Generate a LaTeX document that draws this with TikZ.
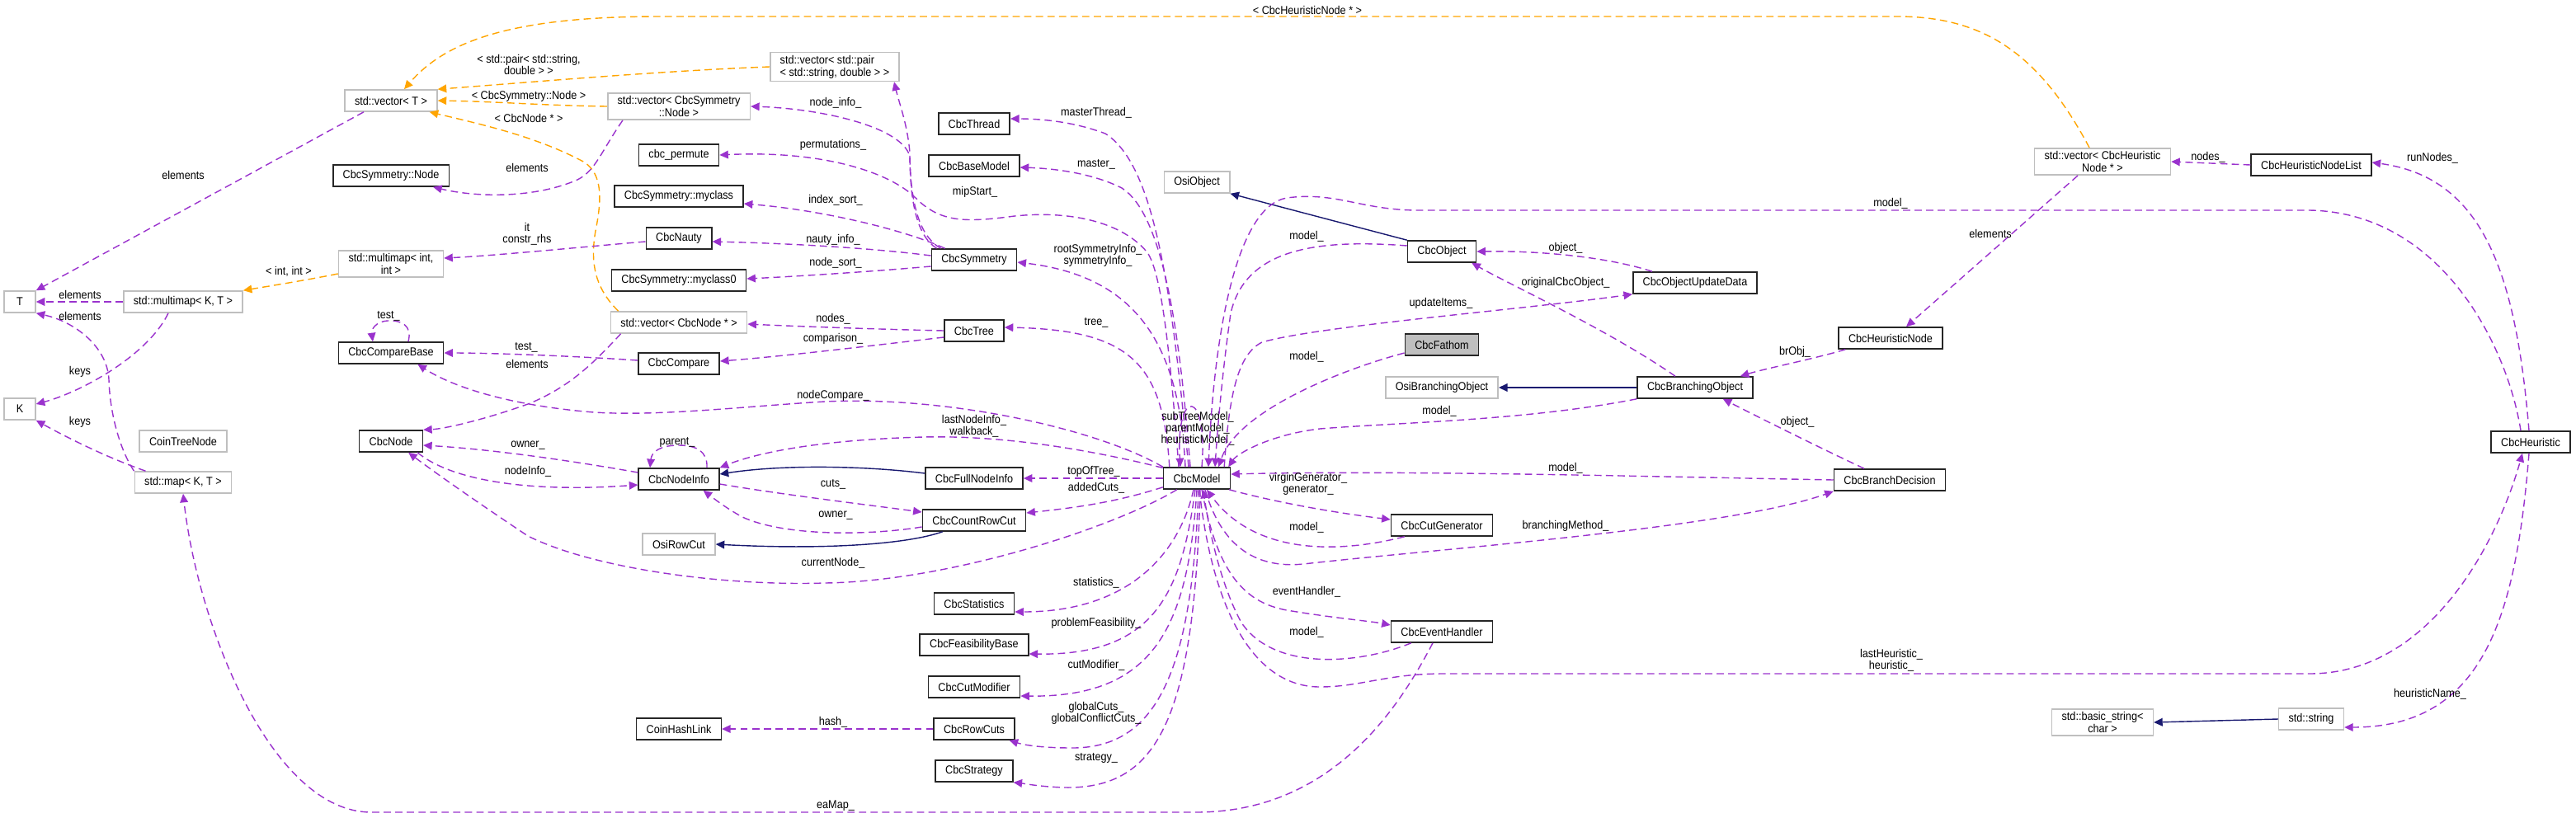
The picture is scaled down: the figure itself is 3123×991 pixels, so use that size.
\documentclass[tikz,border=0pt]{standalone}
\usepackage{fontspec}
\setmainfont{Liberation Sans}[FakeStretch=0.9]
\usetikzlibrary{arrows.meta,calc}

\definecolor{usecol}{RGB}{154,50,205}
\definecolor{inhcol}{RGB}{25,25,112}
\definecolor{tplcol}{RGB}{255,165,0}
\definecolor{extcol}{RGB}{191,191,191}

\tikzset{
  cls/.style={draw=black!85,line width=0.9pt,fill=white,minimum height=14.8pt,
    inner xsep=6.8pt,inner ysep=2pt,font=\fontsize{8}{8.5}\selectfont,align=center},
  ext/.style={cls,draw=extcol},
  cur/.style={cls,fill=extcol},
  lbl/.style={font=\fontsize{8}{8}\selectfont,align=center,inner sep=0pt},
  uses/.style={draw=usecol,line width=0.8pt,dash pattern=on 5pt off 3pt,
    -{Triangle[length=6pt,width=5.5pt]}},
  inh/.style={draw=inhcol,line width=0.8pt,-{Triangle[length=6pt,width=5.5pt]}},
  tpl/.style={draw=tplcol,line width=0.8pt,dash pattern=on 5pt off 3pt,
    -{Triangle[length=6pt,width=5.5pt]}}
}

\begin{document}
\begin{tikzpicture}[x=0.02cm,y=-0.02cm]
  \useasboundingbox (0,0) rectangle (3123,991);

  % templates and element types
  \node[ext,minimum width=21.6pt] (t) at (24,366) {T};
  \node[ext,minimum width=21.6pt] (k) at (24,496) {K};
  \node[ext] (mmkt) at (222,366) {std::multimap< K, T >};
  \node[ext] (cointree) at (222,535) {CoinTreeNode};
  \node[ext] (stdmap) at (222,585) {std::map< K, T >};
  \node[ext] (vect) at (474,122) {std::vector< T >};
  \node[cls] (symnode) at (474,213) {CbcSymmetry::Node};
  \node[ext] (mmint) at (474,320) {std::multimap< int,\\ int >};
  \node[cls] (cmpbase) at (474,428) {CbcCompareBase};
  \node[cls] (cbcnode) at (474,535) {CbcNode};

  % symmetry, tree and node info classes
  \node[ext] (vecsym) at (823,129) {std::vector< CbcSymmetry\\ ::Node >};
  \node[cls] (permute) at (823,188) {cbc\_permute};
  \node[cls] (myclass) at (823,238) {CbcSymmetry::myclass};
  \node[cls] (nauty) at (823,289) {CbcNauty};
  \node[cls] (myclass0) at (823,340) {CbcSymmetry::myclass0};
  \node[ext] (vecnode) at (823,391) {std::vector< CbcNode * >};
  \node[cls] (compare) at (823,441) {CbcCompare};
  \node[cls] (nodeinfo) at (823,581) {CbcNodeInfo};
  \node[ext] (rowcut) at (823,660) {OsiRowCut};
  \node[cls] (hashlink) at (823,884) {CoinHashLink};
  \node[ext,align=left] (vecpair) at (1012,81) {std::vector< std::pair\\< std::string, double > >};

  % members of CbcModel
  \node[cls] (thread) at (1181,150) {CbcThread};
  \node[cls] (basemodel) at (1181,201) {CbcBaseModel};
  \node[cls] (symmetry) at (1181,315) {CbcSymmetry};
  \node[cls] (tree) at (1181,401) {CbcTree};
  \node[cls] (fullinfo) at (1181,580) {CbcFullNodeInfo};
  \node[cls] (countcut) at (1181,631) {CbcCountRowCut};
  \node[cls] (stats) at (1181,732) {CbcStatistics};
  \node[cls] (feas) at (1181,782) {CbcFeasibilityBase};
  \node[cls] (cutmod) at (1181,833) {CbcCutModifier};
  \node[cls] (rowcuts) at (1181,884) {CbcRowCuts};
  \node[cls] (strategy) at (1181,935) {CbcStrategy};
  \node[ext] (osiobject) at (1451,221) {OsiObject};
  \node[cls] (model) at (1451,580) {CbcModel};

  % objects, branching and heuristics
  \node[cls] (cbcobject) at (1748,305) {CbcObject};
  \node[cur] (fathom) at (1748,418) {CbcFathom};
  \node[ext] (osibranch) at (1748,470) {OsiBranchingObject};
  \node[cls] (cutgen) at (1748,637) {CbcCutGenerator};
  \node[cls] (events) at (1748,766) {CbcEventHandler};
  \node[cls] (updatedata) at (2055,343) {CbcObjectUpdateData};
  \node[cls] (branchobj) at (2055,470) {CbcBranchingObject};
  \node[cls] (heurnode) at (2292,410) {CbcHeuristicNode};
  \node[cls] (decision) at (2291,582) {CbcBranchDecision};
  \node[ext] (vecheur) at (2549,196) {std::vector< CbcHeuristic\\ Node * >};
  \node[ext] (basicstr) at (2549,876) {std::basic\_string<\\ char >};
  \node[cls] (nodelist) at (2802,200) {CbcHeuristicNodeList};
  \node[ext] (stdstr) at (2802,872) {std::string};
  \node[cls] (heuristic) at (3068,536) {CbcHeuristic};

  % template instances
  \draw[tpl] (vecpair.west) .. controls (800,86) and (640,100) .. (vect.north east);
  \draw[tpl] (vecsym.west) .. controls (660,128) and (600,123) .. (vect.east);
  \draw[tpl] ($(vecnode.north west)+(10,0)$) .. controls (722,350) and (715,320) .. (722,280)
    .. controls (730,240) and (730,212) .. (709,197) .. controls (650,165) and (580,150) .. ($(vect.south east)+(-10,0)$);
  \draw[tpl] ($(vecheur.north)+(-16,0)$) .. controls (2470,60) and (2400,20) .. (2300,20) -- (800,20)
    .. controls (620,20) and (540,50) .. ($(vect.north)+(16,0)$);
  \draw[tpl] ($(mmint.west)+(0,12)$) .. controls (370,340) and (320,348) .. (mmkt.north east);
  \node[lbl] (lpair) at (641,78) {< std::pair< std::string,\\ double > >};
  \node[lbl] (lsymnode) at (641,117) {< CbcSymmetry::Node >};
  \node[lbl] (lnodeptr) at (641,143) {< CbcNode * >};
  \node[lbl] (lheurnode) at (1585,12) {< CbcHeuristicNode * >};
  \node[lbl] (lintint) at (350,329) {< int, int >};

  % element and key types
  \draw[uses] ($(nauty.west)+(0,4)$) .. controls (700,300) and (600,310) .. ($(mmint.east)+(0,-7)$);
  \draw[uses] ($(vect.south)+(-33,0)$) -- (t.north east);
  \draw[uses] (mmkt.west) -- (t.east);
  \draw[uses] ($(mmkt.south)+(-18,0)$) .. controls (180,430) and (100,475) .. ($(k.east)+(0,-6)$);
  \draw[uses] (stdmap.north west) .. controls (145,545) and (133,500) .. (132,460)
    .. controls (130,420) and (90,390) .. (t.south east);
  \draw[uses] ($(stdmap.north west)+(14,0)$) .. controls (130,555) and (80,530) .. (k.south east);
  \draw[uses] ($(vecsym.south west)+(19,0)$) .. controls (728,185) and (722,207) .. (700,218)
    .. controls (650,240) and (580,240) .. ($(symnode.south east)+(-20,0)$);
  \draw[uses] ($(vecnode.south west)+(13,0)$) .. controls (720,440) and (690,470) .. (640,490)
    .. controls (590,508) and (540,520) .. (cbcnode.north east);
  \node[lbl] (lit) at (639,284) {it\\ constr\_rhs};
  \node[lbl] (lelemt) at (222,212) {elements};
  \node[lbl] (lelemmm) at (97,357) {elements};
  \node[lbl] (lelemmap) at (97,383) {elements};
  \node[lbl] (lkeysmm) at (97,451) {keys};
  \node[lbl] (lkeysmap) at (97,512) {keys};
  \node[lbl] (lelemsym) at (639,203) {elements};
  \node[lbl] (lelemnode) at (639,441) {elements};

  % compare classes
  \draw[uses] ($(cmpbase.north)+(21,0)$) .. controls (500,395) and (487,388) .. (470,389)
    .. controls (455,390) and (450,400) .. ($(cmpbase.north)+(-22,0)$);
  \draw[uses] ($(compare.west)+(0,-4)$) .. controls (700,432) and (600,428) .. (cmpbase.east);
  \draw[uses] (model.north west) .. controls (1330,520) and (1150,480) .. (1000,487)
    .. controls (900,493) and (800,505) .. (720,500) .. controls (620,492) and (550,470) .. ($(cmpbase.south east)+(-32,0)$);
  \node[lbl] (ltestself) at (471,383) {test\_};
  \node[lbl] (ltest) at (638,421) {test\_};
  \node[lbl] (lnodecmp) at (1010,480) {nodeCompare\_};

  % node info and cuts
  \draw[uses] ($(nodeinfo.north)+(34,0)$) .. controls (858,548) and (845,540) .. (823,540)
    .. controls (800,540) and (790,548) .. ($(nodeinfo.north)+(-35,0)$);
  \draw[inh] ($(fullinfo.west)+(0,-6)$) .. controls (1050,565) and (950,563) .. ($(nodeinfo.east)+(0,-6)$);
  \draw[uses] (model.163) .. controls (1300,540) and (1200,528) .. (1120,530)
    .. controls (1000,533) and (920,548) .. (nodeinfo.north east);
  \draw[uses] ($(nodeinfo.west)+(0,-8)$) .. controls (700,560) and (600,545) .. ($(cbcnode.east)+(0,5)$);
  \draw[uses] ($(cbcnode.south east)+(-7,0)$) .. controls (550,585) and (650,597) .. ($(nodeinfo.west)+(0,7)$);
  \draw[uses] ($(nodeinfo.east)+(0,6)$) .. controls (950,600) and (1050,612) .. ($(countcut.west)+(0,-10)$);
  \draw[uses] ($(countcut.west)+(0,8)$) .. controls (1050,650) and (950,650) .. (900,627)
    .. controls (880,616) and (866,605) .. ($(nodeinfo.south east)+(-20,0)$);
  \draw[inh] ($(countcut.south west)+(25,0)$) .. controls (1100,660) and (1000,667) .. (rowcut.east);
  \draw[uses] ($(model.south west)+(0,-3)$) .. controls (1350,610) and (1300,616) .. ($(countcut.east)+(0,-9)$);
  \draw[uses] (model.west) -- (fullinfo.east);
  \draw[uses] ($(model.south west)+(17,0)$) .. controls (1350,640) and (1150,705) .. (1000,707)
    .. controls (880,711) and (720,690) .. (640,650) .. controls (580,610) and (530,575) .. ($(cbcnode.south east)+(-18,0)$);
  \node[lbl] (lparent) at (821,536) {parent\_};
  \node[lbl] (llastnode) at (1181,517) {lastNodeInfo\_\\ walkback\_};
  \node[lbl] (lowner) at (640,540) {owner\_};
  \node[lbl] (lnodeinfo) at (640,572) {nodeInfo\_};
  \node[lbl] (lcuts) at (1010,587) {cuts\_};
  \node[lbl] (lownercut) at (1013,625) {owner\_};
  \node[lbl] (laddedcuts) at (1329,592) {addedCuts\_};
  \node[lbl] (ltopoftree) at (1326,572) {topOfTree\_};
  \node[lbl] (lcurnode) at (1010,683) {currentNode\_};

  % lower members of CbcModel
  \draw[uses] ($(model.south)+(-4,0)$) .. controls (1430,670) and (1370,742) .. ($(stats.east)+(0,10)$);
  \draw[uses] ($(model.south)+(-2,0)$) .. controls (1432,720) and (1400,795) .. ($(feas.east)+(0,11)$);
  \draw[uses] (model.south) .. controls (1440,760) and (1400,846) .. ($(cutmod.east)+(0,11)$);
  \draw[uses] ($(model.south)+(2,0)$) .. controls (1445,820) and (1400,907) .. (1300,907)
    .. controls (1260,907) and (1240,903) .. ($(rowcuts.south east)+(-7,0)$);
  \draw[uses] ($(model.south)+(4,0)$) .. controls (1448,880) and (1400,957) .. (1290,955)
    .. controls (1260,954) and (1240,950) .. (strategy.south east);
  \draw[uses] (rowcuts.west) -- (hashlink.east);
  \draw[uses] ($(events.south)+(-11,0)$) .. controls (1700,850) and (1620,985) .. (1450,985) -- (450,985)
    .. controls (330,985) and (240,760) .. (stdmap.south);
  \node[lbl] (lstats) at (1329,707) {statistics\_};
  \node[lbl] (lfeas) at (1329,756) {problemFeasibility\_};
  \node[lbl] (lcutmod) at (1329,807) {cutModifier\_};
  \node[lbl] (lglobal) at (1329,865) {globalCuts\_\\ globalConflictCuts\_};
  \node[lbl] (lstrategy) at (1329,919) {strategy\_};
  \node[lbl] (lhash) at (1010,876) {hash\_};
  \node[lbl] (leamap) at (1013,977) {eaMap\_};

  % CbcSymmetry and CbcTree
  \draw[uses] ($(symmetry.north west)+(7,0)$) .. controls (1110,285) and (1103,240) .. (1103,185)
    .. controls (1100,150) and (1090,125) .. ($(vecpair.south east)+(-7,0)$);
  \draw[uses] ($(symmetry.north west)+(12,0)$) .. controls (1112,285) and (1104,240) .. (1103,190)
    .. controls (1095,155) and (1000,132) .. (vecsym.east);
  \draw[uses] ($(model.north)+(-22,0)$) .. controls (1420,450) and (1410,330) .. (1390,305)
    .. controls (1360,270) and (1300,255) .. (1230,262) .. controls (1170,270) and (1140,270) .. (1110,240)
    .. controls (1080,210) and (1000,182) .. (permute.east);
  \draw[uses] ($(symmetry.north west)+(17,0)$) .. controls (1100,280) and (1000,255) .. ($(myclass.east)+(0,9)$);
  \draw[uses] ($(symmetry.west)+(0,-5)$) .. controls (1050,300) and (950,295) .. ($(nauty.east)+(0,4)$);
  \draw[uses] ($(symmetry.west)+(0,8)$) .. controls (1050,330) and (950,336) .. ($(myclass0.east)+(0,-2)$);
  \draw[uses] (tree.west) .. controls (1050,399) and (950,395) .. ($(vecnode.east)+(0,2)$);
  \draw[uses] ($(tree.west)+(0,8)$) .. controls (1050,420) and (950,432) .. ($(compare.east)+(0,-3)$);
  \node[lbl] (lnodeinfosym) at (1013,125) {node\_info\_};
  \node[lbl] (lperm) at (1010,176) {permutations\_};
  \node[lbl] (lmipstart) at (1182,233) {mipStart\_};
  \node[lbl] (lindex) at (1013,243) {index\_sort\_};
  \node[lbl] (lnauty) at (1010,291) {nauty\_info\_};
  \node[lbl] (lnodesort) at (1013,319) {node\_sort\_};
  \node[lbl] (lnodes) at (1010,387) {nodes\_};
  \node[lbl] (lcomparison) at (1010,411) {comparison\_};

  % upper members of CbcModel
  \draw[uses] ($(model.north)+(-10,0)$) .. controls (1420,350) and (1400,200) .. (1340,162)
    .. controls (1300,147) and (1260,144) .. ($(thread.east)+(0,-6)$);
  \draw[uses] ($(model.north)+(-8,0)$) .. controls (1430,400) and (1410,260) .. (1360,228)
    .. controls (1320,208) and (1270,204) .. ($(basemodel.east)+(0,2)$);
  \draw[uses] ($(model.north)+(-14,0)$) .. controls (1430,420) and (1380,335) .. ($(symmetry.east)+(0,3)$);
  \draw[uses] ($(model.north west)+(8,0)$) .. controls (1410,440) and (1370,400) .. ($(tree.east)+(0,-4)$);
  \draw[uses] ($(model.north)+(6,0)$) .. controls (1465,470) and (1425,470) .. ($(model.north)+(-20,0)$);
  \node[lbl] (lmthread) at (1329,137) {masterThread\_};
  \node[lbl] (lmaster) at (1329,199) {master\_};
  \node[lbl] (lsym) at (1331,310) {rootSymmetryInfo\_\\ symmetryInfo\_};
  \node[lbl] (ltree) at (1329,391) {tree\_};
  \node[lbl] (lself) at (1452,520) {subTreeModel\_\\ parentModel\_\\ heuristicModel\_};

  % objects and branching
  \draw[inh] (cbcobject.north west) -- (osiobject.south east);
  \draw[uses] ($(cbcobject.west)+(0,-7)$) .. controls (1600,290) and (1510,300) .. (1492,380)
    .. controls (1482,450) and (1476,520) .. ($(model.north)+(22,0)$);
  \draw[uses] ($(updatedata.north west)+(24,0)$) .. controls (1950,312) and (1870,304) .. (cbcobject.east);
  \draw[uses] ($(model.north east)+(-8,0)$) .. controls (1490,480) and (1500,430) .. (1530,415)
    .. controls (1600,395) and (1850,375) .. (updatedata.south west);
  \draw[uses] ($(branchobj.north)+(-24,0)$) .. controls (1950,400) and (1830,345) .. ($(cbcobject.south east)+(-6,0)$);
  \draw[uses] ($(fathom.west)+(0,10)$) .. controls (1620,450) and (1500,500) .. ($(model.north east)+(-15,0)$);
  \draw[inh] (branchobj.west) -- (osibranch.east);
  \draw[uses] (branchobj.south west) .. controls (1850,510) and (1700,512) .. (1600,520)
    .. controls (1540,527) and (1500,550) .. ($(model.north east)+(-3,0)$);
  \draw[uses] ($(heurnode.south west)+(9,0)$) .. controls (2200,435) and (2140,447) .. ($(branchobj.north east)+(-16,0)$);
  \draw[uses] ($(decision.north)+(-31,0)$) .. controls (2200,540) and (2130,505) .. ($(branchobj.south east)+(-37,0)$);
  \draw[uses] (decision.west) .. controls (2000,578) and (1700,570) .. ($(model.east)+(0,-5)$);
  \node[lbl] (lmodelobj) at (1584,287) {model\_};
  \node[lbl] (lobject) at (1898,301) {object\_};
  \node[lbl] (lupdate) at (1747,368) {updateItems\_};
  \node[lbl] (lorig) at (1898,343) {originalCbcObject\_};
  \node[lbl] (lmodelfathom) at (1584,433) {model\_};
  \node[lbl] (lmodelbr) at (1745,499) {model\_};
  \node[lbl] (lbrobj) at (2176,427) {brObj\_};
  \node[lbl] (lobjectdec) at (2179,512) {object\_};
  \node[lbl] (lmodeldec) at (1898,568) {model\_};

  % generators and handlers
  \draw[uses] ($(model.south east)+(-2,0)$) .. controls (1550,610) and (1620,622) .. ($(cutgen.west)+(0,-7)$);
  \draw[uses] ($(cutgen.south west)+(17,0)$) .. controls (1620,672) and (1520,672) .. ($(model.south)+(12,0)$);
  \draw[uses] ($(model.south)+(10,0)$) .. controls (1480,660) and (1520,690) .. (1580,684)
    .. controls (1750,665) and (2100,640) .. (decision.south west);
  \draw[uses] ($(model.south)+(6,0)$) .. controls (1475,690) and (1505,730) .. (1560,740)
    .. controls (1620,750) and (1660,753) .. ($(events.west)+(0,-8)$);
  \draw[uses] ($(events.south west)+(25,0)$) .. controls (1650,805) and (1545,815) .. (1505,755)
    .. controls (1480,710) and (1465,640) .. ($(model.south)+(8,0)$);
  \draw[uses] ($(model.south)+(3,0)$) .. controls (1470,740) and (1520,833) .. (1600,833)
    .. controls (1650,833) and (1680,817) .. (1750,817) -- (2800,817)
    .. controls (2950,817) and (3030,650) .. ($(heuristic.south)+(-10,0)$);
  \node[lbl] (lgen) at (1586,587) {virginGenerator\_\\ generator\_};
  \node[lbl] (lmodelgen) at (1584,640) {model\_};
  \node[lbl] (lbranch) at (1898,638) {branchingMethod\_};
  \node[lbl] (levent) at (1584,718) {eventHandler\_};
  \node[lbl] (lmodelevent) at (1584,767) {model\_};
  \node[lbl] (lheur) at (2293,801) {lastHeuristic\_\\ heuristic\_};

  % CbcHeuristic
  \draw[uses] ($(heuristic.north)+(-12,0)$) .. controls (3040,420) and (2960,258) .. (2800,255) -- (1720,255)
    .. controls (1650,255) and (1620,232) .. (1560,240) .. controls (1500,250) and (1472,400) .. ($(model.north)+(14,0)$);
  \draw[uses] ($(heuristic.south)+(-2,0)$) .. controls (3050,750) and (3010,882) .. ($(stdstr.east)+(0,10)$);
  \draw[inh] (stdstr.west) -- (basicstr.east);
  \draw[uses] (nodelist.west) -- (vecheur.east);
  \draw[uses] ($(heuristic.north)+(-2,0)$) .. controls (3050,330) and (3010,215) .. ($(nodelist.east)+(0,-3)$);
  \draw[uses] ($(vecheur.south)+(-30,0)$) -- ($(heurnode.north)+(19,0)$);
  \node[lbl] (lmodelheur) at (2292,247) {model\_};
  \node[lbl] (lheurname) at (2946,842) {heuristicName\_};
  \node[lbl] (lnodeslist) at (2677,191) {nodes\_};
  \node[lbl] (lrunnodes) at (2949,192) {runNodes\_};
  \node[lbl] (lelemheur) at (2413,283) {elements};
\end{tikzpicture}
\end{document}
